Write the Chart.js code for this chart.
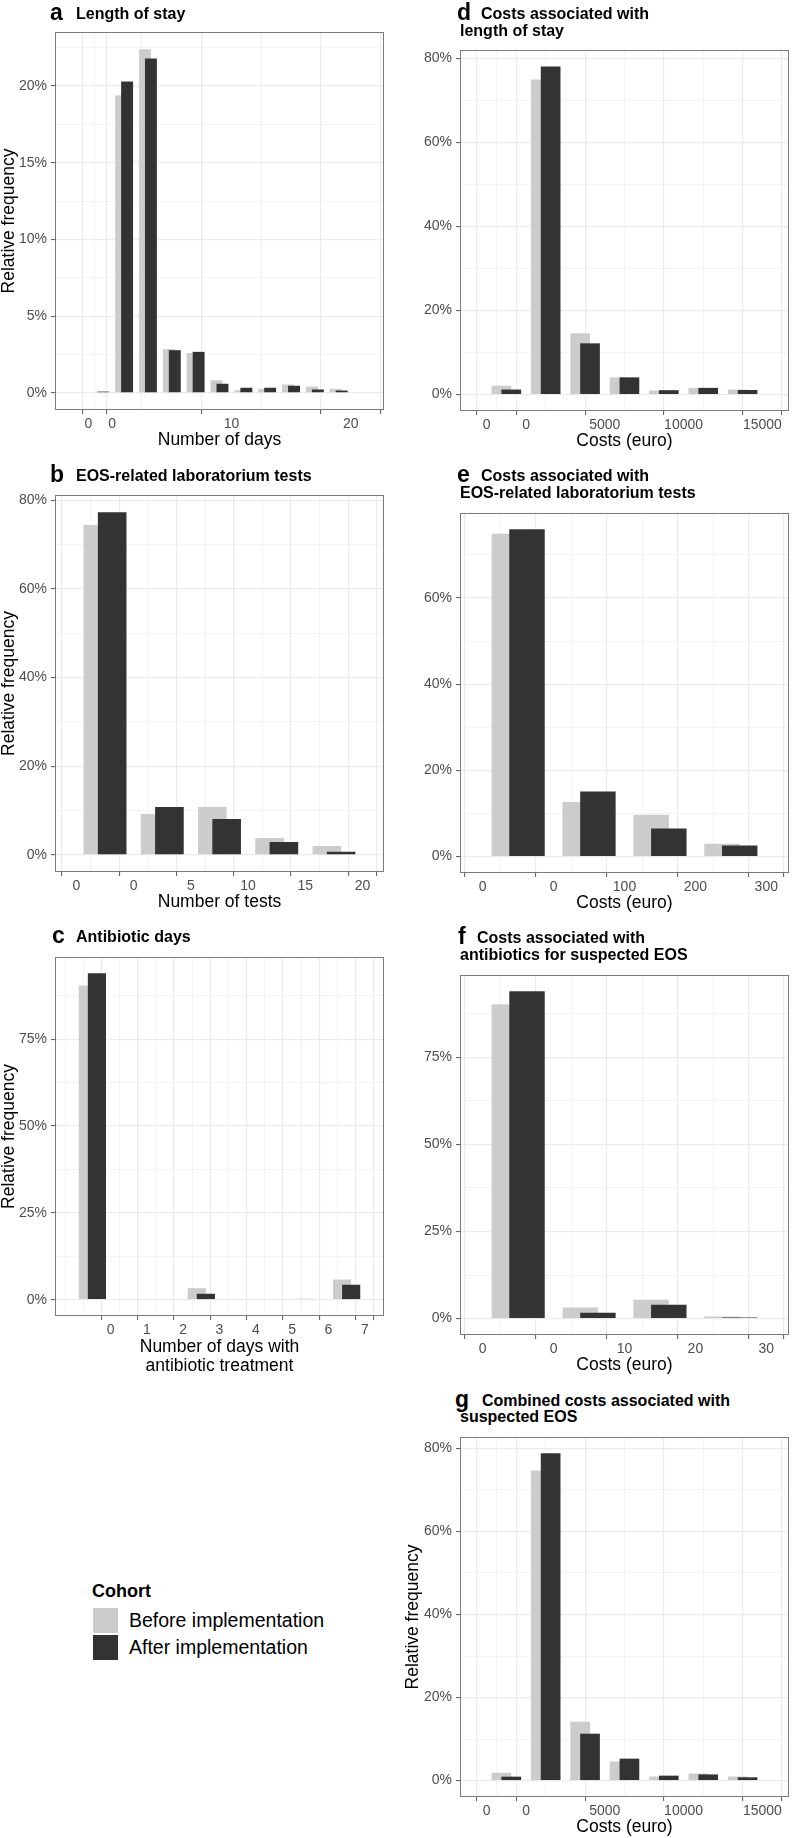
<!DOCTYPE html>
<html>
<head>
<meta charset="utf-8">
<title>Costs and resource use before and after implementation</title>
<script src="https://cdn.jsdelivr.net/npm/chart.js@4.4.1/dist/chart.umd.min.js"></script>
<style>
  body { margin: 0; background: #fff; }
  #page {
    position: relative;
    width: 799px;
    height: 1838px;
    font-family: "Liberation Sans", Arial, Helvetica, sans-serif;
    color: #000;
  }
  #page canvas { position: absolute; }
  .txt { position: absolute; white-space: nowrap; }
  .key { position: absolute; width: 25px; height: 25px; }
</style>
</head>
<body>
<div id="page"></div>
<script>
const cohorts = ["Before implementation", "After implementation"];

// a  Length of stay (2-day bins, first bin = 0 days), % of neonates
const losBins = [-2, 0, 2, 4, 6, 8, 10, 12, 14, 16, 18];
const losBefore = [0, 19.4, 22.4, 2.85, 2.6, 0.82, 0.17, 0.26, 0.54, 0.41, 0.26];
const losAfter = [0.08, 20.3, 21.8, 2.78, 2.67, 0.59, 0.33, 0.33, 0.46, 0.22, 0.15];
const losXTicks = [-2, 0, 10, 20];
const losXLabels = ["0", "0", "10", "20"];
const losYTicks = [0, 5, 10, 15, 20];

// b  EOS-related lab tests (5-test bins)
const labBins = [-5, 0, 5, 10, 15];
const labBefore = [74.4, 9.2, 10.8, 3.8, 2.0];
const labAfter = [77.3, 10.8, 8.1, 2.9, 0.7];
const labXTicks = [-5, 0, 5, 10, 15, 20];
const labXLabels = ["0", "0", "5", "10", "15", "20"];
const labYTicks = [0, 20, 40, 60, 80];

// c  Antibiotic days
const abxBins = [-1, 0, 1, 2, 3, 4, 5, 6];
const abxBefore = [90.5, 0, 0, 3.3, 0, 0, 0.3, 5.8];
const abxAfter = [94.0, 0, 0, 1.7, 0, 0, 0, 4.3];
const abxXTicks = [0, 1, 2, 3, 4, 5, 6, 7];
const abxXLabels = ["0", "1", "2", "3", "4", "5", "6", "7"];
const abxYTicks = [0, 25, 50, 75];

// d  Costs of length of stay (2500 euro bins)
const losCostBins = [-2500, 0, 2500, 5000, 7500, 10000, 12500];
const losCostBefore = [2.1, 75.0, 14.6, 4.1, 0.95, 1.6, 1.2];
const losCostAfter = [1.2, 78.1, 12.2, 4.1, 1.05, 1.6, 1.1];
const costXTicks = [-2500, 0, 5000, 10000, 15000];
const costXLabels = ["0", "0", "5000", "10000", "15000"];
const losCostYTicks = [0, 20, 40, 60, 80];

// e  Costs of lab tests (100 euro bins)
const labCostBins = [-100, 0, 100, 200];
const labCostBefore = [74.9, 12.7, 9.7, 3.0];
const labCostAfter = [75.9, 15.1, 6.5, 2.6];
const labCostXTicks = [-100, 0, 100, 200, 300];
const labCostXLabels = ["0", "0", "100", "200", "300"];
const labCostYTicks = [0, 20, 40, 60, 80];

// f  Costs of antibiotics (10 euro bins)
const abxCostBins = [-10, 0, 10, 20];
const abxCostBefore = [90.2, 3.2, 5.4, 0.6];
const abxCostAfter = [93.9, 1.7, 4.0, 0.3];
const abxCostXTicks = [-10, 0, 10, 20, 30];
const abxCostXLabels = ["0", "0", "10", "20", "30"];
const abxCostYTicks = [0, 25, 50, 75];

// g  Combined costs (2500 euro bins)
const totalCostBins = [-2500, 0, 2500, 5000, 7500, 10000, 12500];
const totalCostBefore = [1.9, 74.7, 14.2, 4.6, 1.0, 1.7, 1.0];
const totalCostAfter = [0.96, 78.8, 11.3, 5.3, 1.2, 1.5, 0.8];
const totalCostYTicks = [0, 20, 40, 60, 80];

const colors = { before: "#cccccc", after: "#333333" };

Chart.defaults.font.family = "'Liberation Sans', Arial, Helvetica, sans-serif";
Chart.defaults.animation = false;

const page = document.getElementById("page");

function addText(txt, x, base, size, bold) {
  const d = document.createElement("div");
  d.className = "txt";
  d.textContent = txt;
  d.style.left = x + "px";
  d.style.top = (base - 0.8465 * size) + "px";
  d.style.fontSize = size + "px";
  d.style.lineHeight = size + "px";
  if (bold) d.style.fontWeight = "bold";
  page.appendChild(d);
}

// ggplot style minor breaks (midpoints, one step beyond the majors)
function gridTicks(majors, lo, hi) {
  const maj = majors.filter(v => v >= lo && v <= hi);
  const b = maj.slice();
  const bd = b[1] - b[0];
  if (lo < b[0]) b.unshift(b[0] - bd);
  if (hi > b[b.length - 1]) b.push(b[b.length - 1] + bd);
  const all = new Set(maj);
  for (let i = 0; i < b.length - 1; i++) {
    all.add(b[i]);
    all.add((b[i] + b[i + 1]) / 2);
  }
  all.add(b[b.length - 1]);
  return [...all]
    .filter(v => v >= lo && v <= hi)
    .sort((p, q) => p - q)
    .map(v => ({ value: v, minor: !maj.includes(v) }));
}

const panelBorder = {
  id: "panelBorder",
  afterDraw(chart) {
    const { ctx, chartArea: a } = chart;
    ctx.save();
    ctx.strokeStyle = "#7a7a7a";
    ctx.lineWidth = 1;
    ctx.strokeRect(a.left + 0.5, a.top + 0.5, a.right - a.left - 1, a.bottom - a.top - 1);
    ctx.restore();
  }
};

const gridStyle = {
  color: "#ebebeb",
  lineWidth: c => (c.tick && c.tick.minor ? 0.6 : 1.2),
  tickColor: c => (c.tick && c.tick.minor ? "rgba(0,0,0,0)" : "#555555"),
  tickLength: 4,
  tickWidth: 1
};

function drawPanel(p) {
  const cx = p.col ? 400 : 0;
  const cw = p.col ? 399 : 400;
  const [l, t, r, b] = p.plot;
  const twoLine = Array.isArray(p.xTitle);
  const axisH = twoLine ? 59 : 41;
  const ct = t - 10;
  const ch = b + axisH - ct;

  const canvas = document.createElement("canvas");
  canvas.width = cw;
  canvas.height = ch;
  canvas.style.left = cx + "px";
  canvas.style.top = ct + "px";
  page.appendChild(canvas);

  const w = p.width;
  const yMax = Math.max(...p.before, ...p.after);
  const yLo = -0.05 * yMax, yHi = 1.05 * yMax;
  const xFrom = p.bins[0] + w / 8;
  const xTo = p.bins[p.bins.length - 1] + 7 * w / 8;
  const xPad = 0.05 * (xTo - xFrom);
  const xLo = xFrom - xPad, xHi = xTo + xPad;

  const xLabelOf = v => p.xLabels[p.xTicks.indexOf(v)];

  new Chart(canvas, {
    type: "bar",
    data: {
      datasets: [
        {
          label: cohorts[1],
          data: p.bins.map((s, i) => ({ x: s + 5 * w / 8, y: p.after[i] })),
          backgroundColor: colors.after,
          order: 0
        },
        {
          label: cohorts[0],
          data: p.bins.map((s, i) => ({ x: s + 3 * w / 8, y: p.before[i] })),
          backgroundColor: colors.before,
          order: 1
        }
      ]
    },
    options: {
      responsive: false,
      animation: false,
      grouped: false,
      barPercentage: 2,
      categoryPercentage: 1,
      borderWidth: 0,
      layout: { padding: { top: 10, left: 0, bottom: 0, right: cx + cw - r } },
      plugins: { legend: { display: false }, tooltip: { enabled: false } },
      scales: {
        x: {
          type: "linear",
          min: xLo,
          max: xHi,
          afterBuildTicks: s => { s.ticks = gridTicks(p.xTicks, xLo, xHi); },
          afterFit: s => { s.height = axisH; s.paddingLeft = 0; s.paddingRight = 0; },
          grid: gridStyle,
          border: { display: false },
          ticks: {
            autoSkip: false,
            maxRotation: 0,
            minRotation: 0,
            padding: 2,
            color: "#4d4d4d",
            font: { size: 14 },
            callback: (v, i, ticks) => (ticks[i].minor ? "" : xLabelOf(ticks[i].value))
          },
          title: {
            display: true,
            text: p.xTitle,
            color: "#000",
            font: { size: 17.5, lineHeight: twoLine ? 1.05 : 1.2 },
            padding: 0
          }
        },
        y: {
          type: "linear",
          min: yLo,
          max: yHi,
          afterBuildTicks: s => { s.ticks = gridTicks(p.yTicks, yLo, yHi); },
          afterFit: s => { s.width = l - cx; s.paddingTop = 0; s.paddingBottom = 0; },
          grid: gridStyle,
          border: { display: false },
          ticks: {
            autoSkip: false,
            padding: 4,
            color: "#4d4d4d",
            font: { size: 14 },
            callback: (v, i, ticks) => (ticks[i].minor ? "" : ticks[i].value + "%")
          },
          title: {
            display: !!p.yTitle,
            text: p.yTitle || "",
            color: "#000",
            font: { size: 17.5, lineHeight: 1 },
            padding: { top: p.yTitlePad || 0, bottom: 0 }
          }
        }
      }
    },
    plugins: [panelBorder]
  });

  addText(p.tag, p.tagAt[0], p.tagAt[1], 23, true);
  p.title.forEach(([txt, x, base]) => addText(txt, x, base, 16, true));
}

const panels = [
  {
    tag: "a", tagAt: [50, 20], title: [["Length of stay", 76, 20]],
    bins: losBins, width: 2, before: losBefore, after: losAfter,
    xTicks: losXTicks, xLabels: losXLabels, yTicks: losYTicks,
    xTitle: "Number of days", yTitle: "Relative frequency",
    col: 0, plot: [55, 32, 384, 410]
  },
  {
    tag: "b", tagAt: [50, 482], title: [["EOS-related laboratorium tests", 76, 482]],
    bins: labBins, width: 5, before: labBefore, after: labAfter,
    xTicks: labXTicks, xLabels: labXLabels, yTicks: labYTicks,
    xTitle: "Number of tests", yTitle: "Relative frequency",
    col: 0, plot: [55, 495, 384, 872]
  },
  {
    tag: "c", tagAt: [52, 943], title: [["Antibiotic days", 76, 943]],
    bins: abxBins, width: 1, before: abxBefore, after: abxAfter,
    xTicks: abxXTicks, xLabels: abxXLabels, yTicks: abxYTicks,
    xTitle: ["Number of days with", "antibiotic treatment"], yTitle: "Relative frequency",
    col: 0, plot: [55, 957, 384, 1316]
  },
  {
    tag: "d", tagAt: [457, 20],
    title: [["Costs associated with", 481, 20], ["length of stay", 460, 37]],
    bins: losCostBins, width: 2500, before: losCostBefore, after: losCostAfter,
    xTicks: costXTicks, xLabels: costXLabels, yTicks: losCostYTicks,
    xTitle: "Costs (euro)", yTitle: null,
    col: 1, plot: [460, 50, 789, 411]
  },
  {
    tag: "e", tagAt: [457, 482],
    title: [["Costs associated with", 481, 482], ["EOS-related laboratorium tests", 460, 499]],
    bins: labCostBins, width: 100, before: labCostBefore, after: labCostAfter,
    xTicks: labCostXTicks, xLabels: labCostXLabels, yTicks: labCostYTicks,
    xTitle: "Costs (euro)", yTitle: null,
    col: 1, plot: [460, 513, 789, 873]
  },
  {
    tag: "f", tagAt: [458, 944],
    title: [["Costs associated with", 477, 944], ["antibiotics for suspected EOS", 460, 961]],
    bins: abxCostBins, width: 10, before: abxCostBefore, after: abxCostAfter,
    xTicks: abxCostXTicks, xLabels: abxCostXLabels, yTicks: abxCostYTicks,
    xTitle: "Costs (euro)", yTitle: null,
    col: 1, plot: [460, 975, 789, 1335]
  },
  {
    tag: "g", tagAt: [455, 1407],
    title: [["Combined costs associated with", 482, 1407], ["suspected EOS", 460, 1423]],
    bins: totalCostBins, width: 2500, before: totalCostBefore, after: totalCostAfter,
    xTicks: costXTicks, xLabels: costXLabels, yTicks: totalCostYTicks,
    xTitle: "Costs (euro)", yTitle: "Relative frequency", yTitlePad: 4,
    col: 1, plot: [460, 1437, 789, 1797]
  }
];

panels.forEach(drawPanel);

// Legend
addText("Cohort", 92, 1597, 18, true);
[colors.before, colors.after].forEach((c, i) => {
  const k = document.createElement("div");
  k.className = "key";
  k.style.left = "93px";
  k.style.top = (1608 + i * 27) + "px";
  k.style.background = c;
  page.appendChild(k);
  addText(cohorts[i], 129, 1628 + i * 27, 19.5, false);
});
</script>
</body>
</html>
